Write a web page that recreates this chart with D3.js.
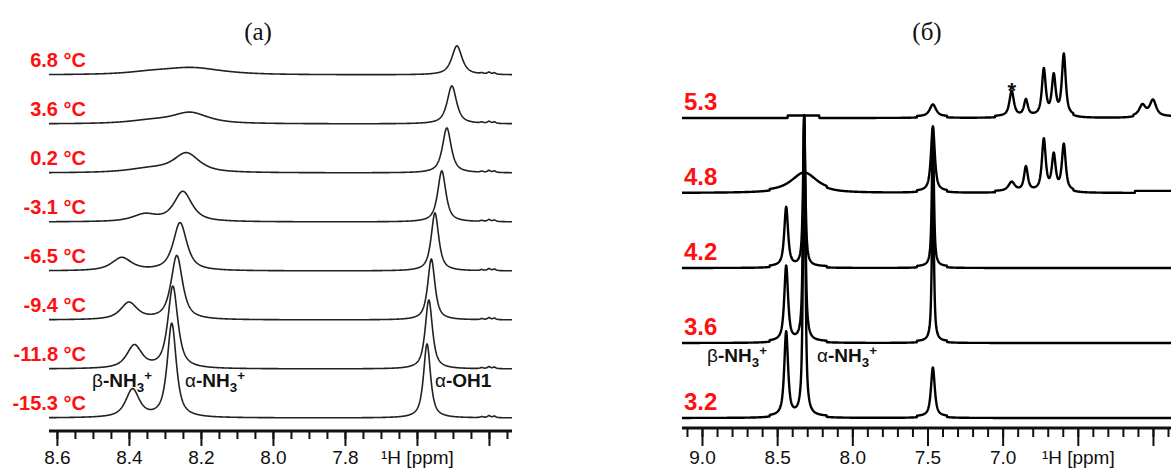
<!DOCTYPE html>
<html>
<head>
<meta charset="utf-8">
<script src="https://cdn.jsdelivr.net/npm/d3@7"></script>
<style>
  body { margin: 0; background: #fff; }
  svg { display: block; }
</style>
</head>
<body>
<div id="chart"></div>
<script>
// ---- data (ppm, intensity, linewidth in ppm) ----
var labelsA = ["6.8 °C", "3.6 °C", "0.2 °C", "-3.1 °C", "-6.5 °C", "-9.4 °C", "-11.8 °C", "-15.3 °C"]
var peaksA = [
  [[8.225, 7, 0.20], [8.34, 2, 0.16], [7.489, 29, 0.034], [7.42, 1, 0.01], [7.40, 2, 0.01], [7.385, 1.5, 0.01]],
  [[8.23, 11, 0.12], [8.34, 3, 0.15], [7.503, 38, 0.031], [7.42, 1, 0.01], [7.40, 2, 0.01], [7.385, 1.5, 0.01]],
  [[8.24, 19, 0.085], [8.34, 4, 0.15], [7.517, 45, 0.029], [7.42, 1, 0.01], [7.40, 2, 0.01], [7.385, 1.5, 0.01]],
  [[8.25, 30, 0.06], [8.356, 7, 0.08], [7.531, 51, 0.027], [7.42, 1, 0.01], [7.40, 2, 0.01], [7.385, 1.5, 0.01]],
  [[8.258, 48, 0.045], [8.42, 13, 0.065], [7.55, 58, 0.025], [7.42, 1, 0.01], [7.40, 2, 0.01], [7.385, 1.5, 0.01]],
  [[8.267, 64, 0.038], [8.40, 17, 0.055], [7.56, 61, 0.024], [7.42, 1, 0.01], [7.40, 2, 0.01], [7.385, 1.5, 0.01]],
  [[8.278, 82, 0.033], [8.385, 23, 0.05], [7.567, 69, 0.024], [7.42, 1, 0.01], [7.40, 2, 0.01], [7.385, 1.5, 0.01]],
  [[8.281, 94, 0.03], [8.39, 28, 0.045], [7.572, 74, 0.023], [7.42, 1, 0.01], [7.40, 2, 0.01], [7.385, 1.5, 0.01]]
]
var majorA = [8.6, 8.4, 8.2, 8.0, 7.8, 7.6, 7.4]
var tickLabelsA = ["8.6", "8.4", "8.2", "8.0", "7.8", "\u00B9H [ppm]", ""]

var labelsB = ["5.3", "4.8", "4.2", "3.6", "3.2"]
var peaksB = [
  [[7.464, 12, 0.05], [6.94, 25, 0.035], [6.845, 16, 0.03], [6.726, 46, 0.03], [6.66, 39, 0.03], [6.593, 61, 0.03], [6.07, 11, 0.05], [6.0, 16, 0.05]],
  [[8.32, 19, 0.2], [7.464, 65, 0.03], [6.94, 9, 0.05], [6.845, 24, 0.03], [6.726, 51, 0.03], [6.66, 35, 0.03], [6.593, 46, 0.03]],
  [[8.44, 59, 0.03], [8.32, 148, 0.018], [7.464, 138, 0.016]],
  [[8.44, 75, 0.03], [8.32, 225, 0.018], [7.464, 160, 0.016]],
  [[8.44, 84, 0.03], [8.32, 300, 0.018], [7.464, 49, 0.03]]
]
// small baseline steps left by the processing (from, to, height)
var stepsB = [
  [[8.43, 8.22, 2.5], [7.57, 7.37, 1.5], [7.05, 6.53, 1.5], [6.13, 5.85, 1.5]],
  [[8.55, 8.17, 1.5], [7.57, 7.37, 1.5], [7.05, 6.53, 1.5], [6.12, 5.85, 2]],
  [[8.55, 8.17, 1.5], [7.57, 7.37, 1.5]],
  [[8.55, 8.17, 1.5], [7.57, 7.37, 1.5]],
  [[8.55, 8.17, 1.5], [7.57, 7.37, 1.5]]
]
var majorB = [9.0, 8.5, 8.0, 7.5, 7.0, 6.5, 6.0]
var tickLabelsB = ["9.0", "8.5", "8.0", "7.5", "7.0", "\u00B9H [ppm]", ""]

// ---- setup ----
var W = 1171, H = 468
var svg = d3.select("#chart").append("svg")
  .attr("width", W)
  .attr("height", H)

var amp = d3.scaleLinear().domain([0, 100]).range([0, 100])

function shape(x, p) {
  var u = (x - p[0]) / p[2]
  var L = 1 / (1 + 4 * u * u)
  var G = Math.exp(-4 * Math.LN2 * u * u)
  return p[1] * (0.8 * L + 0.2 * G)
}

function spectrum(peaks, steps, lo, hi, step) {
  var xs = d3.range(hi, lo, -step)
  peaks.forEach(function(p) { xs.push(p[0]) })
  xs.push(lo)
  xs.sort(function(a, b) { return b - a })
  return xs.map(function(x) {
    var v = 0
    peaks.forEach(function(p) { v += shape(x, p) })
    ;(steps || []).forEach(function(s) { if (x <= s[0] && x >= s[1]) v += s[2] })
    return [x, v]
  })
}

function panel(opt) {
  var g = svg.append("g")
  var x = d3.scaleLinear().domain(opt.domain).range(opt.xrange)
  var base = d3.scalePoint().domain(opt.labels).range(opt.baseRange)

  var line = d3.line()
    .x(function(d) { return x(d[0]) })
    .y(function(d) { return -amp(d[1]) })

  opt.labels.forEach(function(lab, i) {
    var data = spectrum(opt.peaks[i], opt.steps ? opt.steps[i] : null, opt.domain[1], opt.domain[0], opt.step)
    g.append("path")
      .datum(data)
      .attr("transform", "translate(0," + base(lab) + ")")
      .attr("d", line)
      .attr("fill", "none")
      .attr("stroke", opt.color)
      .attr("stroke-width", opt.lw)
      .attr("stroke-linejoin", "round")

    g.append("text")
      .text(lab)
      .attr("x", opt.labelX)
      .attr("y", base(lab) - opt.labelLift)
      .attr("text-anchor", opt.labelAnchor)
      .attr("font-family", "Liberation Sans, Arial, sans-serif")
      .attr("font-weight", "bold")
      .attr("font-size", opt.labelSize)
      .attr("fill", "#ff1010")
  })

  // axis: minor ticks, then major ticks with labels
  var minor = d3.range(Math.ceil(opt.domain[1] / opt.minorStep), Math.floor(opt.domain[0] / opt.minorStep) + 1)
    .map(function(k) { return +(k * opt.minorStep).toFixed(3) })
  var ax = g.append("g").attr("transform", "translate(0," + opt.axisY + ")")
  ax.call(d3.axisBottom(x).tickValues(minor).tickSize(opt.minorLen).tickSizeOuter(0).tickFormat(""))
  ax.select(".domain").remove()
  ax.selectAll(".tick line").attr("stroke-width", 2).attr("stroke", "#111")

  var ax2 = g.append("g").attr("transform", "translate(0," + opt.axisY + ")")
  ax2.call(d3.axisBottom(x).tickValues(opt.major).tickSize(opt.majorLen).tickSizeOuter(0)
    .tickFormat(function(d, i) { return opt.tickLabels[i] }))
  ax2.select(".domain").remove()
  ax2.selectAll(".tick line").attr("stroke-width", 2).attr("stroke", "#111")
  ax2.selectAll(".tick text")
    .attr("y", opt.tickTextY)
    .attr("dy", null)
    .attr("fill", "#111")
    .attr("font-family", "Liberation Sans, Arial, sans-serif")
    .attr("font-size", 19)

  g.append("line")
    .attr("x1", opt.xrange[0]).attr("x2", opt.xrange[1])
    .attr("y1", opt.axisY).attr("y2", opt.axisY)
    .attr("stroke", "#111")
    .attr("stroke-width", 3)

  g.append("text")
    .text(opt.title)
    .attr("x", opt.titleX)
    .attr("y", 40)
    .attr("text-anchor", "middle")
    .attr("font-family", "Liberation Serif, Times New Roman, serif")
    .attr("font-size", 25)
    .attr("fill", "#111")

  return { g: g, x: x, base: base }
}

var pa = panel({
  domain: [8.622, 7.336], xrange: [49, 512],
  labels: labelsA, peaks: peaksA, baseRange: [75, 418], step: 0.001,
  color: "#222", lw: 1.6,
  labelX: 86, labelAnchor: "end", labelLift: 8, labelSize: 20,
  axisY: 431, minorStep: 0.05, minorLen: 8, majorLen: 15, major: majorA, tickLabels: tickLabelsA, tickTextY: 33,
  title: "(a)", titleX: 258
})

var pb = panel({
  domain: [9.133, 5.88], xrange: [682, 1171],
  labels: labelsB, peaks: peaksB, steps: stepsB, baseRange: [118, 418], step: 0.002,
  color: "#000", lw: 2.4,
  labelX: 684, labelAnchor: "start", labelLift: 8, labelSize: 24,
  axisY: 428, minorStep: 0.1, minorLen: 9, majorLen: 18, major: majorB, tickLabels: tickLabelsB, tickTextY: 36,
  title: "(\u0431)", titleX: 927
})

// peak assignments
function note(g, x, y, greek, size) {
  var t = g.append("text")
    .attr("x", x).attr("y", y)
    .attr("font-family", "Liberation Sans, Arial, sans-serif")
    .attr("font-size", size)
    .attr("fill", "#111")
  t.append("tspan").text(greek).attr("font-weight", "normal")
  t.append("tspan").text("-NH").attr("font-weight", "bold")
  t.append("tspan").text("3").attr("font-weight", "bold").attr("font-size", size * 0.7).attr("dy", size * 0.25)
  t.append("tspan").text("+").attr("font-weight", "bold").attr("font-size", size * 0.7).attr("dy", -size * 0.6)
  return t
}

note(pa.g, 92, 387, "\u03B2", 19)
note(pa.g, 185, 387, "\u03B1", 19)
var oh = pa.g.append("text")
  .attr("x", 435).attr("y", 387)
  .attr("font-family", "Liberation Sans, Arial, sans-serif")
  .attr("font-size", 19)
  .attr("fill", "#111")
oh.append("tspan").text("\u03B1").attr("font-weight", "normal")
oh.append("tspan").text("-OH1").attr("font-weight", "bold")

note(pb.g, 707, 362, "\u03B2", 19)
note(pb.g, 817, 362, "\u03B1", 19)

pb.g.append("text")
  .text("*")
  .attr("x", pb.x(6.94))
  .attr("y", 98)
  .attr("text-anchor", "middle")
  .attr("font-family", "Liberation Sans, Arial, sans-serif")
  .attr("font-weight", "bold")
  .attr("font-size", 22)
  .attr("fill", "#111")
</script>
</body>
</html>
